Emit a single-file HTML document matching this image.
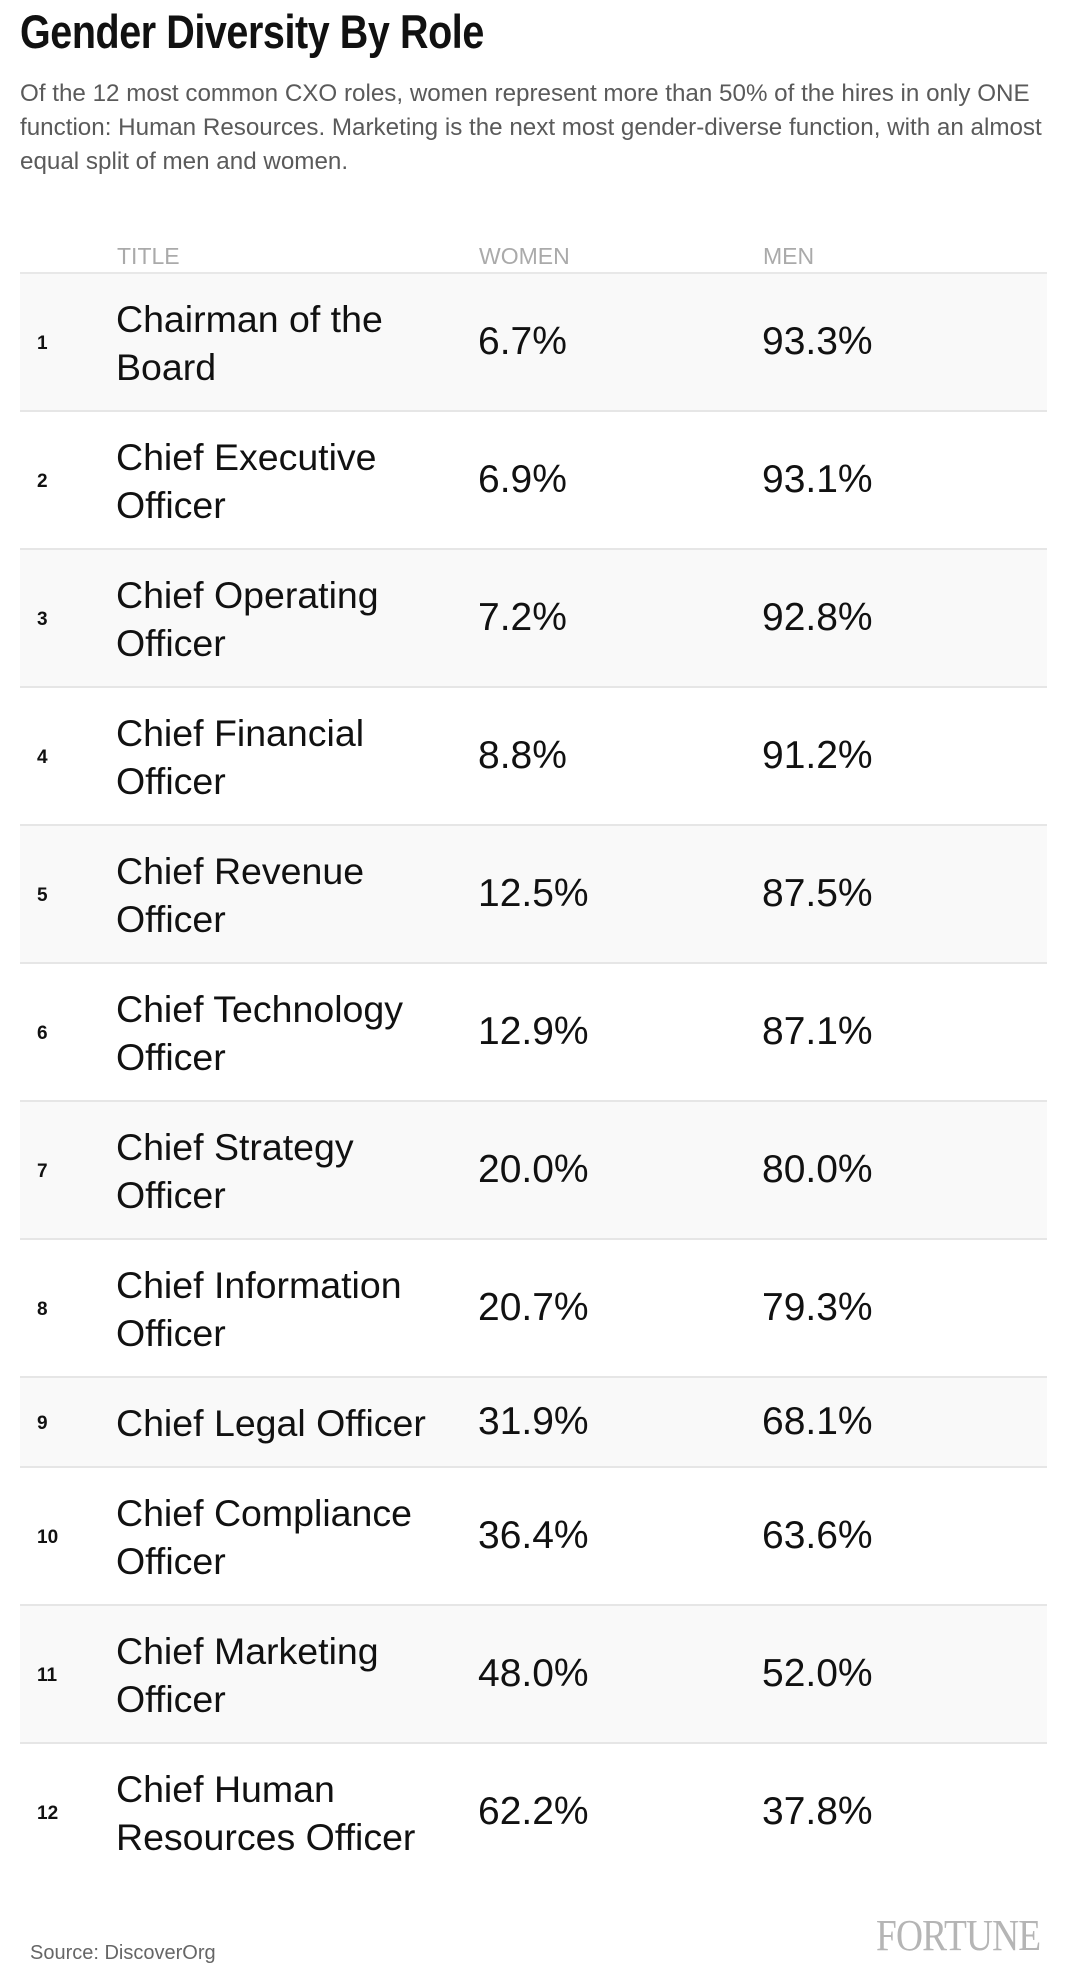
<!DOCTYPE html>
<html><head><meta charset="utf-8">
<style>
*{margin:0;padding:0;box-sizing:border-box}
body{width:1070px;height:1980px;background:#fff;font-family:"Liberation Sans",Arial,sans-serif;position:relative;overflow:hidden}
#title{position:absolute;left:20px;top:4px;font-size:47px;font-weight:bold;color:#111;transform:scaleX(0.84);transform-origin:left top;letter-spacing:-0.5px;white-space:nowrap}
#subtitle{position:absolute;left:20px;top:77px;font-size:24.2px;line-height:34px;color:#5a5a5a;white-space:nowrap}
.hdr{position:absolute;top:243px;font-size:23px;color:#aaa}
#hline{position:absolute;left:20px;top:272px;width:1027px;height:2px;background:#e8e8e8}
.row{position:absolute;left:20px;width:1027px;border-bottom:2px solid #e6e6e6}
.num{position:absolute;left:17px;font-size:19px;font-weight:bold;color:#111}
.ttl{position:absolute;left:96px;font-size:37.5px;line-height:48px;color:#111;width:360px;white-space:nowrap}
.val{position:absolute;font-size:39px;color:#111}
#source{position:absolute;left:30px;top:1942px;font-size:20px;color:#666}
#fortune{position:absolute;right:30px;top:1910px;font-family:"Liberation Serif",serif;font-size:44px;color:#b5b5b5;letter-spacing:-1px;transform:scaleX(0.85);transform-origin:right top}
</style></head><body>
<div id="title">Gender Diversity By Role</div>
<div id="subtitle">Of the 12 most common CXO roles, women represent more than 50% of the hires in only ONE<br>function: Human Resources. Marketing is the next most gender-diverse function, with an almost<br>equal split of men and women.</div>
<div class="hdr" style="left:117px">TITLE</div>
<div class="hdr" style="left:479px">WOMEN</div>
<div class="hdr" style="left:763px">MEN</div>
<div id="hline"></div>
<div id="table"></div>
<div id="source">Source: DiscoverOrg</div>
<div id="fortune">FORTUNE</div>
<script>
const titles=[["Chairman of the","Board"],["Chief Executive","Officer"],["Chief Operating","Officer"],["Chief Financial","Officer"],["Chief Revenue","Officer"],["Chief Technology","Officer"],["Chief Strategy","Officer"],["Chief Information","Officer"],["Chief Legal Officer"],["Chief Compliance","Officer"],["Chief Marketing","Officer"],["Chief Human","Resources Officer"]];
const women=[6.7,6.9,7.2,8.8,12.5,12.9,20.0,20.7,31.9,36.4,48.0,62.2];
const men=[93.3,93.1,92.8,91.2,87.5,87.1,80.0,79.3,68.1,63.6,52.0,37.8];
const tbl=document.getElementById('table');
let y=274;
titles.forEach((t,i)=>{
  const h=t.length>1?138:90;
  const r=document.createElement('div');
  
  
  r.className='row';
  r.style.top=y+'px';r.style.height=h+'px';
  r.style.background=i%2===0?'#f9f9f9':'#fff';
  if(i===titles.length-1)r.style.borderBottom='none';
  const mid=h/2;
  const n=document.createElement('div');
  
  
  n.className='num';n.textContent=i+1;n.style.top=(mid-10)+'px';
  r.appendChild(n);
  const tt=document.createElement('div');
  
  
  tt.className='ttl';tt.innerHTML=t.join('<br>');tt.style.top=(mid-t.length*24)+'px';
  r.appendChild(tt);
  const w=document.createElement('div');
  
  
  w.className='val';w.textContent=women[i].toFixed(1)+'%';w.style.left='458px';w.style.top=(mid-23)+'px';
  r.appendChild(w);
  const m=document.createElement('div');
  
  
  m.className='val';m.textContent=men[i].toFixed(1)+'%';m.style.left='742px';m.style.top=(mid-23)+'px';
  r.appendChild(m);
  tbl.appendChild(r);
  y+=h;
});
</script>
</body></html>
